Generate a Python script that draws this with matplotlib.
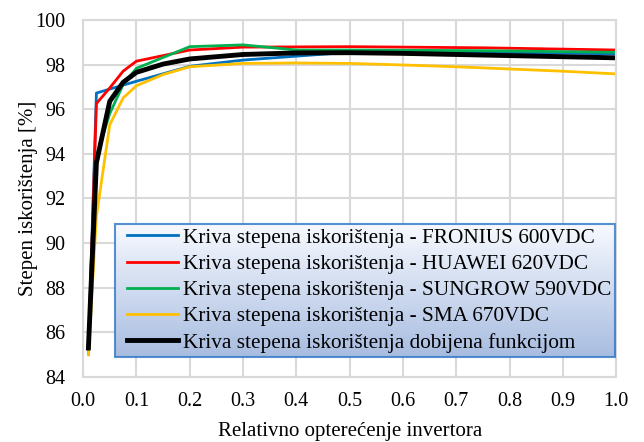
import numpy as np
import matplotlib.pyplot as plt

# relativno opterecenje
x_fronius = [0.01, 0.025, 0.05, 0.1, 0.2, 0.3, 0.5, 0.75, 1.0]
y_fronius = [85.2, 96.72, 96.9, 97.25, 97.92, 98.2, 98.55, 98.55, 98.48]

x_huawei = [0.01, 0.025, 0.05, 0.075, 0.1, 0.2, 0.3, 0.5, 0.75, 1.0]
y_huawei = [85.1, 96.25, 96.95, 97.7, 98.15, 98.65, 98.78, 98.8, 98.75, 98.65]

x_sungrow = [0.01, 0.025, 0.05, 0.075, 0.1, 0.2, 0.3, 0.4, 0.5, 0.75, 1.0]
y_sungrow = [85.0, 93.9, 95.8, 97.1, 97.83, 98.8, 98.88, 98.65, 98.65, 98.62, 98.55]

x_sma = [0.01, 0.025, 0.05, 0.075, 0.1, 0.15, 0.2, 0.3, 0.4, 0.5, 0.6, 0.7, 0.8, 0.9, 1.0]
y_sma = [85.0, 91.2, 95.3, 96.5, 97.05, 97.55, 97.9, 98.05, 98.07, 98.05, 97.98, 97.9, 97.8, 97.7, 97.58]

x_fun = [0.01, 0.025, 0.05, 0.075, 0.1, 0.15, 0.2, 0.3, 0.4, 0.5, 0.6, 0.7, 0.8, 0.9, 1.0]
y_fun = [85.3, 93.6, 96.35, 97.2, 97.65, 98.02, 98.25, 98.45, 98.52, 98.53, 98.5, 98.45, 98.4, 98.35, 98.3]

labels = ['Kriva stepena iskorištenja - FRONIUS 600VDC',
          'Kriva stepena iskorištenja - HUAWEI 620VDC',
          'Kriva stepena iskorištenja - SUNGROW 590VDC',
          'Kriva stepena iskorištenja - SMA 670VDC',
          'Kriva stepena iskorištenja dobijena funkcijom']

plt.rcParams['font.family'] = 'Liberation Serif'

fig = plt.figure(figsize=(6.44, 4.42), dpi=100)
ax = fig.add_axes([0.129, 0.147, 0.828, 0.808])

ax.plot(x_fronius, y_fronius, color='#0070c0', lw=2, label=labels[0])
ax.plot(x_huawei, y_huawei, color='#ff0000', lw=2, label=labels[1])
ax.plot(x_sungrow, y_sungrow, color='#00b050', lw=2, label=labels[2])
ax.plot(x_sma, y_sma, color='#ffc000', lw=2, label=labels[3])
ax.plot(x_fun, y_fun, color='black', lw=3.5, label=labels[4])

ax.set_xlim(0, 1.0)
ax.set_ylim(84, 100)
ax.set_xticks(np.arange(0, 1.01, 0.1))
ax.set_xticklabels(['%.1f' % t for t in np.arange(0, 1.01, 0.1)])
ax.set_yticks(np.arange(84, 101, 2))
ax.grid(True, color='#d9d9d9', lw=1.5)
ax.set_axisbelow(True)
ax.tick_params(length=0, labelsize=14.5)
ax.tick_params(axis='x', pad=11)
ax.tick_params(axis='y', pad=12.5)
for s in ax.spines.values():
    s.set_color('#d9d9d9')
    s.set_linewidth(1.5)

ax.set_xlabel('Relativno opterećenje invertora', fontsize=15)
ax.set_ylabel('Stepen iskorištenja [%]', fontsize=15)
ax.xaxis.set_label_coords(0.5, -0.125)
ax.yaxis.set_label_coords(-0.085, 0.5)

leg = ax.legend(loc='lower right', bbox_to_anchor=(0.998, 0.056), fontsize=15.3,
                frameon=True, fancybox=False, handlelength=2.78, handletextpad=0.22,
                borderpad=0.2, labelspacing=0.3, borderaxespad=0)
leg.get_frame().set_facecolor('none')
leg.get_frame().set_edgecolor('#2e75c6')
leg.get_frame().set_linewidth(1.5)
leg.set_zorder(6)

# malo odmaknuti linije u legendi od lijeve ivice
for ln in leg.get_lines():
    xd = ln.get_xdata()
    ln.set_xdata([xd[0] + 6, xd[-1]])
    ln.set_ydata(ln.get_ydata()[:1].tolist() * 2)

# gradijent iza legende
fig.canvas.draw()
bb = leg.get_window_extent().transformed(ax.transAxes.inverted())
grad = np.linspace(0, 1, 100).reshape(-1, 1)
top = np.array([0.97, 0.98, 1.0])
bot = np.array([0.66, 0.74, 0.88])
img = top + (bot - top) * grad[:, :, None]
ax.imshow(img, extent=[bb.x0, bb.x1, bb.y0, bb.y1], transform=ax.transAxes,
          aspect='auto', zorder=5, origin='upper')
ax.set_xlim(0, 1.0)
ax.set_ylim(84, 100)

fig.savefig('out.png', dpi=100)
